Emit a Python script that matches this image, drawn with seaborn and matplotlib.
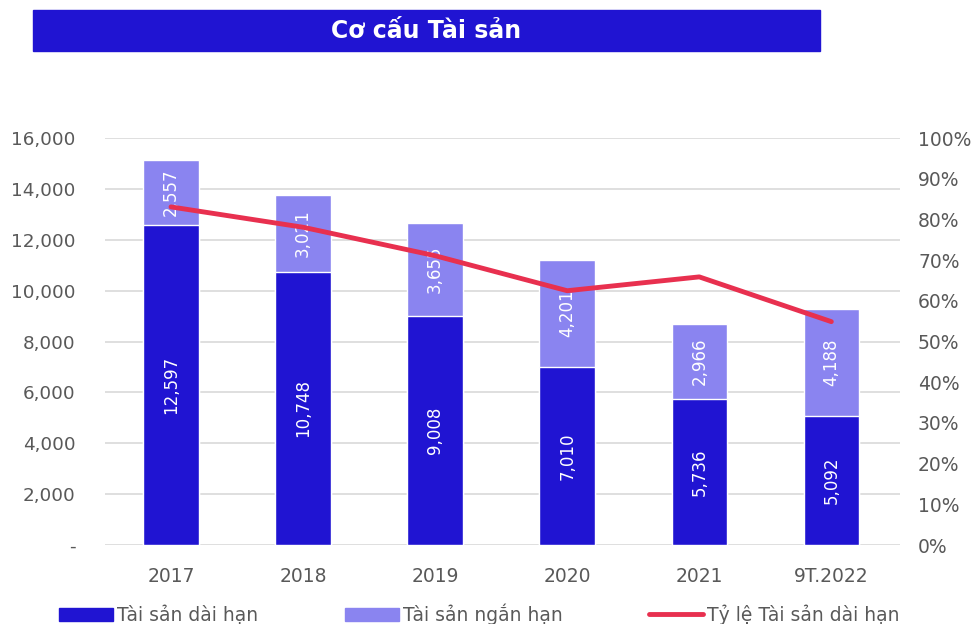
import numpy as np
import pandas as pd
import matplotlib
import matplotlib.pyplot as plt
import seaborn as sns
from matplotlib.patches import Patch
from matplotlib.lines import Line2D
from matplotlib.ticker import FuncFormatter, MultipleLocator

matplotlib.use("Agg")
sns.set_theme(style="white")
plt.rcParams["font.family"] = ["DejaVu Sans"]

# data
years = ["2017", "2018", "2019", "2020", "2021", "9T.2022"]
long_term = [12597, 10748, 9008, 7010, 5736, 5092]
short_term = [2557, 3021, 3655, 4201, 2966, 4188]
ratio_pct = [83.1, 78.1, 71.1, 62.5, 65.9, 54.9]

c_long = "#2014D2"
c_short = "#8A84F0"
c_line = "#E8304F"
c_text = "#595959"

df = pd.DataFrame({"year": years, "long": long_term, "short": short_term})
df["total"] = df["long"] + df["short"]

fig = plt.figure(figsize=(9.77, 6.24), dpi=100)
ax = fig.add_axes([105 / 977, 0.1266, 795 / 977, 0.652])

# stacked bars: total first (light), long-term on top (dark)
sns.barplot(data=df, x="year", y="total", color=c_short, width=0.42,
            saturation=1, ax=ax, zorder=2)
sns.barplot(data=df, x="year", y="long", color=c_long, width=0.42,
            saturation=1, ax=ax, zorder=3)

for i, row in df.iterrows():
    ax.text(i, row["long"] / 2, f"{row['long']:,}", rotation=90, color="white",
            ha="center", va="center", fontsize=12, zorder=5)
    ax.text(i, row["long"] + row["short"] / 2, f"{row['short']:,}", rotation=90,
            color="white", ha="center", va="center", fontsize=12, zorder=5)

ax.set_ylim(0, 16000)
ax.set_xlim(-0.5, 5.52)
ax.yaxis.set_major_locator(MultipleLocator(2000))
ax.yaxis.set_major_formatter(FuncFormatter(lambda v, p: "-" if v == 0 else f"{int(v):,}"))
ax.grid(axis="y", color="#D9D9D9", linewidth=1.2, zorder=0)
ax.set_axisbelow(True)
ax.set_xlabel("")
ax.set_ylabel("")
ax.tick_params(axis="y", labelsize=13.2, colors=c_text, length=0, pad=21)
ax.tick_params(axis="x", labelsize=13.5, colors=c_text, length=0, pad=16)
for s in ax.spines.values():
    s.set_visible(False)

# ratio line on the right axis
ax2 = ax.twinx()
sns.lineplot(x=np.arange(len(years)), y=ratio_pct, color=c_line, linewidth=3.5,
             ax=ax2, zorder=6)
ax2.set_ylim(0, 100)
ax2.yaxis.set_major_locator(MultipleLocator(10))
ax2.yaxis.set_major_formatter(FuncFormatter(lambda v, p: f"{int(v)}%"))
ax2.tick_params(axis="y", labelsize=13.5, colors=c_text, length=0, pad=13)
ax2.grid(False)
for s in ax2.spines.values():
    s.set_visible(False)

# title banner
fig.patches.append(plt.Rectangle((33 / 977, 1 - 51 / 624), (820 - 33) / 977, 41 / 624,
                                 transform=fig.transFigure, color=c_long, zorder=0))
fig.text((33 + 820) / 2 / 977, 1 - 30.5 / 624, "Cơ cấu Tài sản", color="white",
         fontsize=17, fontweight="bold", ha="center", va="center")

handles = [Patch(color=c_long), Patch(color=c_short),
           Line2D([0], [0], color=c_line, linewidth=3.5)]
labels = ["Tài sản dài hạn", "Tài sản ngắn hạn", "Tỷ lệ Tài sản dài hạn"]
fig.legend(handles, labels, loc="center left", bbox_to_anchor=(59 / 977, 1 - 614 / 624),
           ncol=3, frameon=False, fontsize=13.5, labelcolor=c_text, columnspacing=4.6,
           handlelength=2.9, handletextpad=0.2, borderpad=0, borderaxespad=0)

fig.savefig("out.png", dpi=100)
